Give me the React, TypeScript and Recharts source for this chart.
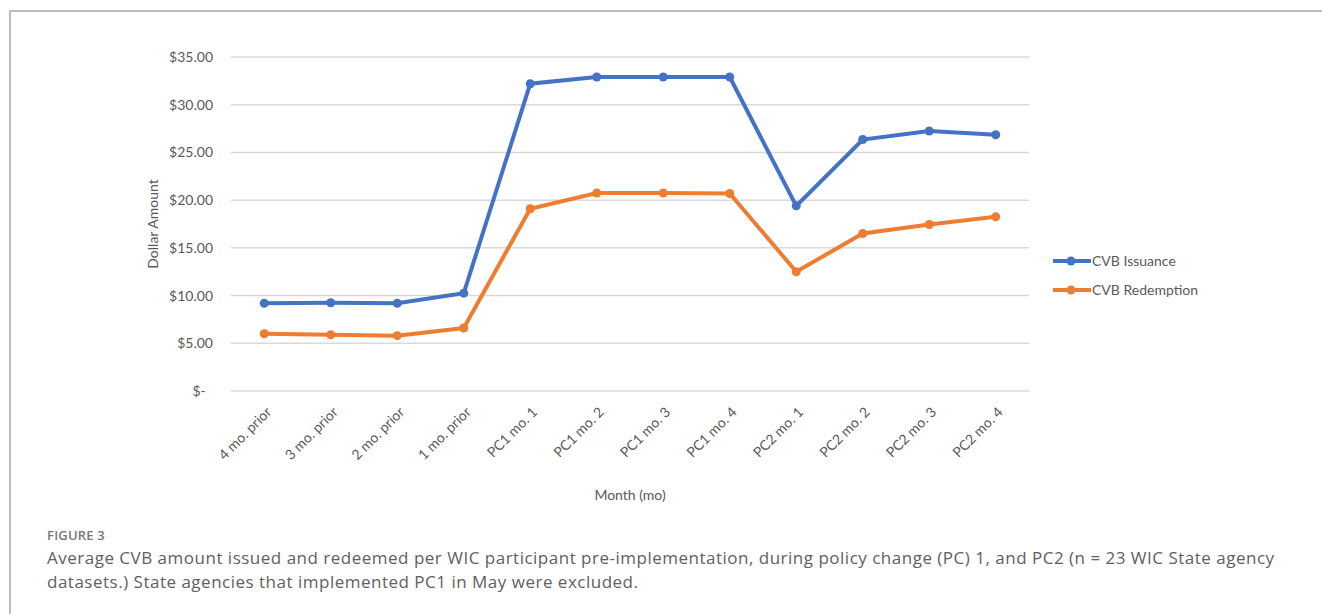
import React from 'react';
import {
  LineChart,
  Line,
  XAxis,
  YAxis,
  CartesianGrid,
  Legend,
} from 'recharts';

// month labels along the x axis
const months = [
  '4 mo. prior', '3 mo. prior', '2 mo. prior', '1 mo. prior',
  'PC1 mo. 1', 'PC1 mo. 2', 'PC1 mo. 3', 'PC1 mo. 4',
  'PC2 mo. 1', 'PC2 mo. 2', 'PC2 mo. 3', 'PC2 mo. 4',
];

// average dollar amounts
const issuance = [9.2, 9.25, 9.2, 10.25, 32.2, 32.9, 32.9, 32.9, 19.4, 26.35, 27.25, 26.85];
const redemption = [6.0, 5.9, 5.8, 6.6, 19.1, 20.75, 20.75, 20.7, 12.5, 16.5, 17.45, 18.25];

const yTicks = [0, 5, 10, 15, 20, 25, 30, 35];

const series = [
  { key: 'issuance', name: 'CVB Issuance', color: '#4472C4' },
  { key: 'redemption', name: 'CVB Redemption', color: '#ED7D31' },
];

const data = months.map((m, i) => ({
  month: m,
  issuance: issuance[i],
  redemption: redemption[i],
}));

const FONT = 'Lato, "Open Sans", sans-serif';
const TEXT = '#595959';

const formatDollar = (v: number) => (v === 0 ? '$-\u00A0\u00A0' : `$${v.toFixed(2)}`);

// rotated x tick, Excel style
const MonthTick = ({ x, y, payload }: any) => (
  <g transform={`translate(${x + 8},${y + 22})`}>
    <text
      x={0}
      y={0}
      textAnchor="end"
      fill={TEXT}
      fontSize={14}
      fontFamily={FONT}
      transform="rotate(-45)"
    >
      {payload.value}
    </text>
  </g>
);

const LegendContent = () => (
  <div style={{ fontFamily: FONT, fontSize: 14, color: TEXT }}>
    {series.map((s) => (
      <div key={s.key} style={{ display: 'flex', alignItems: 'center', height: 29 }}>
        <svg width={38} height={12} style={{ display: 'block' }}>
          <line x1={0} y1={6} x2={38} y2={6} stroke={s.color} strokeWidth={4} />
          <circle cx={18} cy={6} r={4.5} fill={s.color} />
        </svg>
        <span style={{ marginLeft: 1 }}>{s.name}</span>
      </div>
    ))}
  </div>
);

const App: React.FC = () => {
  return (
    <div style={{ position: 'absolute', left: 0, top: 0, width: 1322, height: 614, background: '#fff', overflow: 'hidden' }}>
      {/* frame */}
      <div
        style={{
          position: 'absolute',
          left: 9,
          top: 10,
          width: 1320,
          height: 610,
          borderTop: '2px solid #bdbdbd',
          borderLeft: '2px solid #bdbdbd',
        }}
      />

      <div style={{ position: 'absolute', left: 0, top: 0 }}>
        <LineChart
          width={1322}
          height={520}
          data={data}
          margin={{ top: 57, right: 293, left: 0, bottom: 9 }}
        >
          <CartesianGrid vertical={false} stroke="#d9d9d9" strokeWidth={1.5} />
          <XAxis
            dataKey="month"
            scale="band"
            axisLine={false}
            tickLine={false}
            tickSize={0}
            tickMargin={0}
            interval={0}
            height={120}
            tick={<MonthTick />}
            label={{
              value: 'Month (mo)',
              position: 'insideBottom',
              offset: 11,
              fill: TEXT,
              fontSize: 14,
              fontFamily: FONT,
            }}
          />
          <YAxis
            width={231}
            domain={[0, 35]}
            ticks={yTicks}
            axisLine={false}
            tickLine={false}
            tickSize={0}
            tickMargin={18}
            tickFormatter={formatDollar}
            tick={{ fill: TEXT, fontSize: 14, fontFamily: FONT }}
            label={{
              value: 'Dollar Amount',
              angle: -90,
              position: 'insideLeft',
              offset: 153,
              fill: TEXT,
              fontSize: 14,
              fontFamily: FONT,
              style: { textAnchor: 'middle' },
            }}
          />
          <Legend
            layout="vertical"
            align="center"
            verticalAlign="middle"
            wrapperStyle={{ left: 1053, top: 246, width: 220 }}
            content={<LegendContent />}
          />
          {series.map((s) => (
            <Line
              key={s.key}
              type="linear"
              dataKey={s.key}
              name={s.name}
              stroke={s.color}
              strokeWidth={4}
              dot={{ r: 4.5, fill: s.color, stroke: s.color, strokeWidth: 0 }}
              activeDot={false}
              isAnimationActive={false}
            />
          ))}
        </LineChart>
      </div>

      {/* caption */}
      <div
        style={{
          position: 'absolute',
          left: 47,
          top: 526,
          fontFamily: '"Open Sans", sans-serif',
          color: '#606060',
        }}
      >
        <div style={{ fontSize: 13, fontWeight: 600, color: '#777', letterSpacing: 0.2 }}>FIGURE 3</div>
        <div style={{ fontSize: 17, lineHeight: '24px', marginTop: 2, whiteSpace: 'nowrap', letterSpacing: 0.5 }}>
          Average CVB amount issued and redeemed per WIC participant pre-implementation, during policy change (PC) 1, and PC2 (n = 23 WIC State agency
          <br />
          datasets.) State agencies that implemented PC1 in May were excluded.
        </div>
      </div>
    </div>
  );
};

export default App;
